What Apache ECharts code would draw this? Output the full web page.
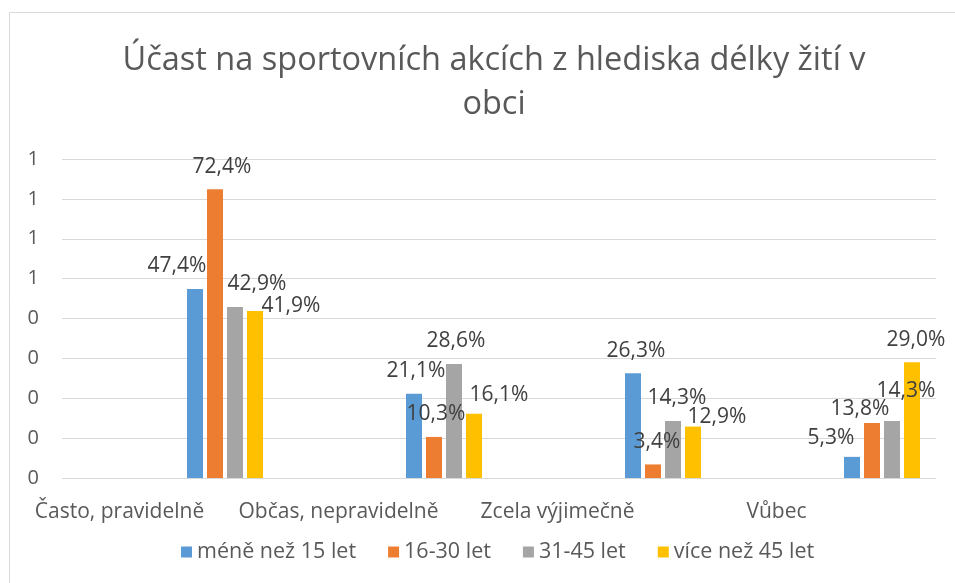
<!DOCTYPE html>
<html>
<head>
<meta charset="utf-8">
<script src="https://cdn.jsdelivr.net/npm/echarts@6/dist/echarts.min.js"></script>
<style>
  html, body { margin: 0; padding: 0; background: #fff; }
  #chart { width: 955px; height: 583px; }
</style>
</head>
<body>
<div id="chart"></div>
<script>
// data
const categories = ["Často, pravidelně", "Občas, nepravidelně", "Zcela výjimečně", "Vůbec"];
const seriesNames = ["méně než 15 let", "16-30 let", "31-45 let", "více než 45 let"];
const under15 = [0.474, 0.211, 0.263, 0.053];
const age16to30 = [0.724, 0.103, 0.034, 0.138];
const age31to45 = [0.429, 0.286, 0.143, 0.143];
const over45 = [0.419, 0.161, 0.129, 0.290];
const yTicks = { min: 0, max: 0.8, step: 0.1 };

// labels were moved by hand in the original, so keep the nudges here
const labelShift = [
  [[-18, 0], [2, 0], [3, 0], [-21, 4]],
  [[7, 0], [2, 0], [4, 0], [-12, 9]],
  [[22, 0], [2, 0], [4, 0], [14, -7]],
  [[36, 18], [25, 4], [24, 13], [4, 0]],
];

const colors = ["#5B9BD5", "#ED7D31", "#A5A5A5", "#FFC000"];
const font = "Open Sans";
const values = [under15, age16to30, age31to45, over45];

const myCharts = echarts.init(document.getElementById("chart"));

const series = values.map((arr, i) => ({
  name: seriesNames[i],
  type: "bar",
  xAxisIndex: 1,
  yAxisIndex: 1,
  barWidth: 16,
  barGap: "25%",
  clip: false,
  itemStyle: { color: colors[i] },
  data: arr.map((v, j) => ({
    value: v,
    label: { offset: labelShift[i][j] },
  })),
  label: {
    show: true,
    position: "top",
    distance: 12,
    color: "#404040",
    fontFamily: font,
    fontSize: 21,
    formatter: (p) => (p.value * 100).toFixed(1).replace(".", ",") + "%",
  },
}));

const option = {
  animation: false,
  color: colors,
  title: {
    text: "Účast na sportovních akcích z hlediska délky žití v\nobci",
    left: 489,
    textAlign: "center",
    top: 34,
    textStyle: {
      fontFamily: font,
      fontSize: 32.5,
      fontWeight: "normal",
      color: "#595959",
      lineHeight: 44,
    },
  },
  legend: {
    bottom: 15,
    left: 176,
    itemWidth: 11,
    itemHeight: 11,
    itemGap: 32,
    icon: "rect",
    textStyle: { fontFamily: font, fontSize: 21.5, color: "#595959" },
    data: seriesNames,
  },
  grid: [
    // grid lines + y labels
    { left: 62, right: 19, top: 159, bottom: 105 },
    // bars: category points placed where the original groups sit
    { left: 225, width: 657, top: 159, bottom: 105 },
    // category labels (shifted left like the original)
    { left: 10, width: 876, top: 159, bottom: 105 },
  ],
  xAxis: [
    { gridIndex: 0, type: "category", data: categories, axisLine: { show: false }, axisTick: { show: false }, axisLabel: { show: false } },
    { gridIndex: 1, type: "category", data: categories, boundaryGap: false, axisLine: { show: false }, axisTick: { show: false }, axisLabel: { show: false }, splitLine: { show: false } },
    {
      gridIndex: 2, type: "category", data: categories,
      axisLine: { show: false }, axisTick: { show: false },
      axisLabel: { margin: 24, color: "#595959", fontFamily: font, fontSize: 21, interval: 0 },
    },
  ],
  yAxis: [
    {
      gridIndex: 0, type: "value", min: yTicks.min, max: yTicks.max, interval: yTicks.step,
      axisLine: { show: false }, axisTick: { show: false },
      axisLabel: {
        margin: 23, color: "#595959", fontFamily: font, fontSize: 20,
        formatter: (v) => String(Math.round(v + 1e-9)),
      },
      splitLine: { lineStyle: { color: "#D9D9D9", width: 1 } },
    },
    { gridIndex: 1, type: "value", min: yTicks.min, max: yTicks.max, interval: yTicks.step, show: false, splitLine: { show: false } },
    { gridIndex: 2, type: "value", min: yTicks.min, max: yTicks.max, show: false, splitLine: { show: false } },
  ],
  graphic: [
    {
      type: "rect",
      shape: { x: 9.5, y: 12.5, width: 1000, height: 1000 },
      style: { fill: null, stroke: "#D9D9D9", lineWidth: 1 },
      silent: true,
    },
  ],
  series: series,
};

myCharts.setOption(option, true);
</script>
</body>
</html>
